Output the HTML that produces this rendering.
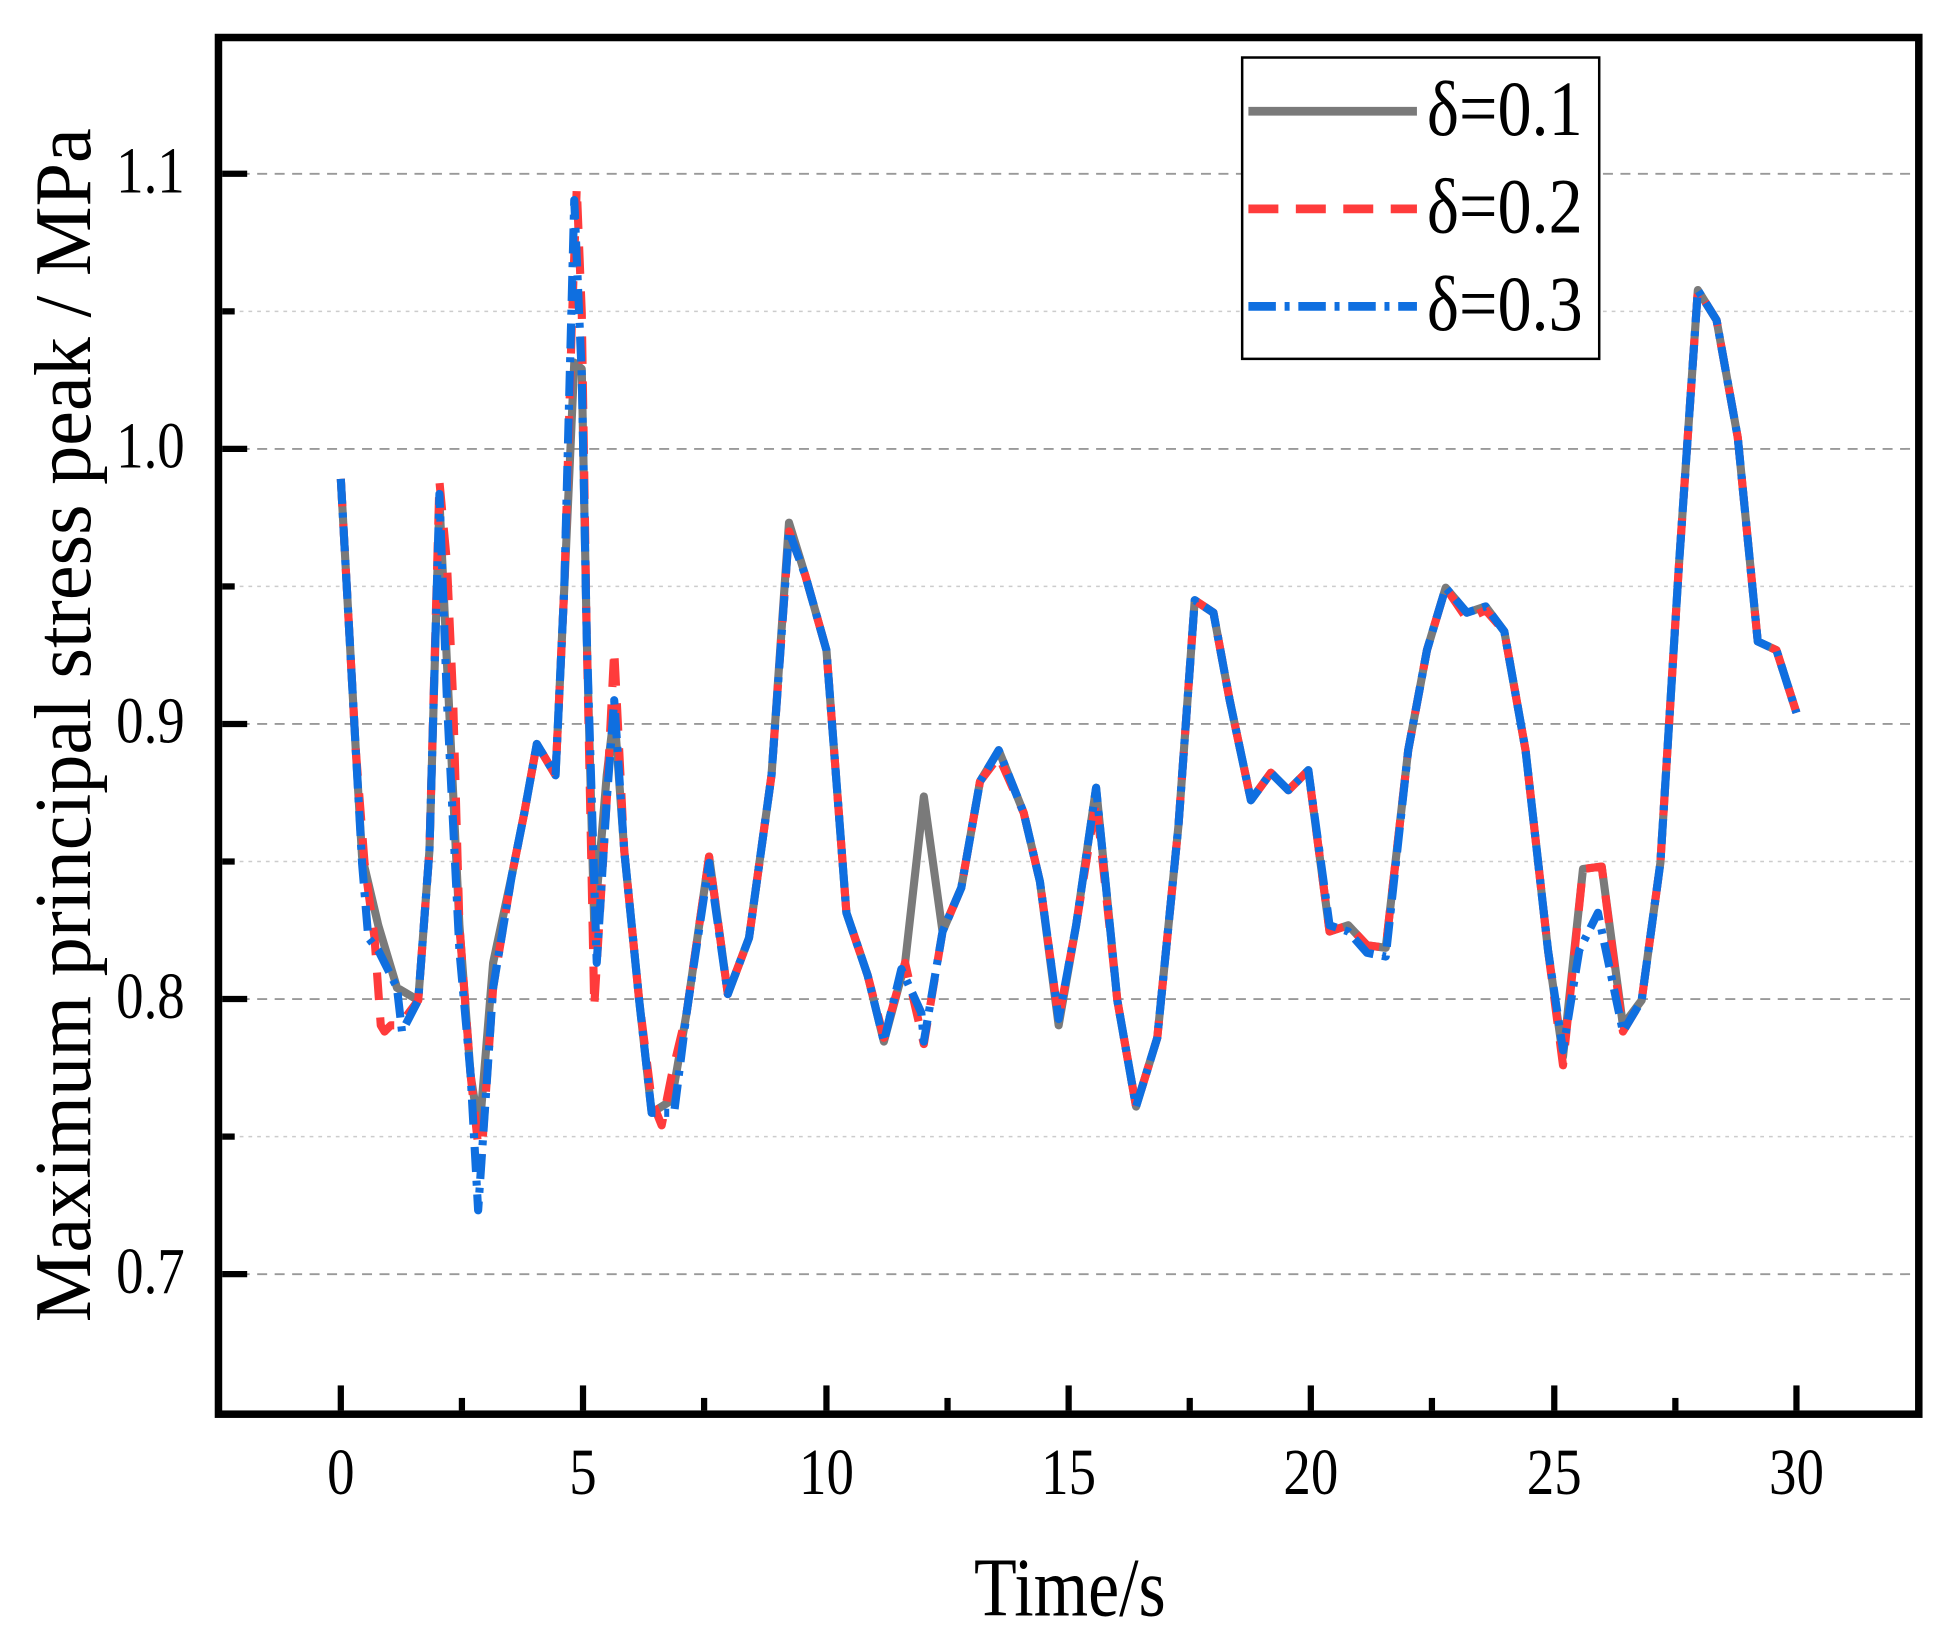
<!DOCTYPE html>
<html><head><meta charset="utf-8"><style>html,body{margin:0;padding:0;background:#fff}svg{display:block}</style></head>
<body>
<svg width="1960" height="1633" viewBox="0 0 1570 1306" preserveAspectRatio="none" xmlns="http://www.w3.org/2000/svg" font-family="Liberation Serif, serif">
<rect width="1570" height="1306" fill="#fff"/>
<g stroke="#999" stroke-width="1.5">
<line x1="178" x2="1534" y1="139" y2="139" stroke-dasharray="8,6"/>
<line x1="178" x2="1534" y1="359" y2="359" stroke-dasharray="8,6"/>
<line x1="178" x2="1534" y1="579" y2="579" stroke-dasharray="8,6"/>
<line x1="178" x2="1534" y1="799" y2="799" stroke-dasharray="8,6"/>
<line x1="178" x2="1534" y1="1019" y2="1019" stroke-dasharray="8,6"/>
</g>
<g stroke="#ccc" stroke-width="1.2" stroke-dasharray="3,4">
<line x1="178" x2="1534" y1="249" y2="249"/>
<line x1="178" x2="1534" y1="469" y2="469"/>
<line x1="178" x2="1534" y1="689" y2="689"/>
<line x1="178" x2="1534" y1="909" y2="909"/>
</g>
<g fill="none" stroke-linejoin="round" stroke-width="6.5">
<polyline stroke="#7a7a7a" points="273,383 285,600 290,685 303,740 318,790 335,800 344,680 352,400 358,530 368,740 377,860 384,905 395,770 410,700 420,650 430,595 445,620 452,470 460,290 466,295 470,510 476,740 486,620 492,570 500,680 512,800 522,890 538,880 550,810 568,685 583,795 600,750 618,620 632,418 645,460 662,520 678,730 695,780 708,833 725,770 740,637 755,745 770,710 785,625 800,600 820,650 833,705 848,820 862,740 878,630 895,800 910,885 927,830 944,660 957,480 972,490 985,560 1002,640 1018,618 1032,632 1048,616 1065,745 1080,740 1095,756 1110,758 1128,600 1143,520 1158,470 1175,490 1190,485 1205,505 1222,600 1240,760 1252,845 1268,695 1283,693 1300,820 1315,800 1330,690 1345,450 1360,232 1375,256 1392,350 1408,513 1423,520 1439,570"/>
<polyline stroke="#ff3b3b" stroke-dasharray="22,14" points="273,383 285,600 292,690 300,750 305,820 308,825 313,820 320,820 335,800 344,680 352,385 358,450 363,560 368,740 377,860 385,935 395,790 410,700 420,650 430,595 445,620 452,470 458,260 462,150 466,250 470,510 476,805 486,640 492,520 500,680 512,800 522,880 530,900 538,860 550,810 568,685 583,795 600,750 618,620 632,425 645,460 662,520 678,730 695,780 708,830 725,770 740,835 755,745 770,710 785,625 800,605 820,650 833,705 848,815 862,740 878,640 895,800 910,885 927,830 944,660 957,480 972,490 985,560 1002,640 1018,618 1032,632 1048,616 1065,745 1080,740 1095,756 1110,758 1128,600 1143,520 1158,470 1175,495 1190,488 1205,505 1222,600 1240,760 1252,852 1268,695 1283,693 1300,825 1315,800 1330,690 1345,450 1360,232 1375,256 1392,350 1408,513 1423,520 1439,570"/>
<polyline stroke="#0f6fe0" stroke-dasharray="20,7,4,7" points="273,383 285,600 290,690 295,750 303,760 318,790 322,825 335,800 344,680 352,395 358,560 368,760 377,860 383,968 395,790 410,700 420,650 430,595 445,620 452,470 460,160 466,300 470,510 478,770 486,640 492,560 500,680 512,800 522,890 540,890 550,810 568,690 583,795 600,750 618,620 632,425 645,460 662,520 678,730 695,780 708,833 722,775 738,810 740,833 755,745 770,710 785,625 800,600 820,650 833,705 848,815 862,740 878,630 895,800 910,885 927,830 944,660 957,480 972,490 985,560 1002,640 1018,618 1032,632 1048,616 1065,740 1080,745 1095,762 1110,765 1128,600 1143,520 1158,470 1175,490 1190,485 1205,505 1222,600 1240,760 1252,840 1265,760 1280,730 1300,825 1315,800 1330,690 1345,450 1360,232 1375,256 1392,350 1408,513 1423,520 1439,570"/>
</g>
<rect x="175" y="30" width="1362" height="1101" fill="none" stroke="#000" stroke-width="6"/>
<g stroke="#000" stroke-width="5">
<line x1="178" x2="198" y1="139" y2="139"/><line x1="178" x2="198" y1="359" y2="359"/><line x1="178" x2="198" y1="579" y2="579"/><line x1="178" x2="198" y1="799" y2="799"/><line x1="178" x2="198" y1="1019" y2="1019"/>
<line x1="178" x2="188" y1="249" y2="249"/><line x1="178" x2="188" y1="469" y2="469"/><line x1="178" x2="188" y1="689" y2="689"/><line x1="178" x2="188" y1="909" y2="909"/>
<line x1="273" x2="273" y1="1128" y2="1108"/><line x1="467" x2="467" y1="1128" y2="1108"/><line x1="662" x2="662" y1="1128" y2="1108"/><line x1="856" x2="856" y1="1128" y2="1108"/><line x1="1050" x2="1050" y1="1128" y2="1108"/><line x1="1245" x2="1245" y1="1128" y2="1108"/><line x1="1439" x2="1439" y1="1128" y2="1108"/>
<line x1="370" x2="370" y1="1128" y2="1118"/><line x1="564" x2="564" y1="1128" y2="1118"/><line x1="759" x2="759" y1="1128" y2="1118"/><line x1="953" x2="953" y1="1128" y2="1118"/><line x1="1147" x2="1147" y1="1128" y2="1118"/><line x1="1342" x2="1342" y1="1128" y2="1118"/>
</g>
<g font-size="44" text-anchor="end">
<text transform="translate(148,154) scale(1,1.2)">1.1</text><text transform="translate(148,374) scale(1,1.2)">1.0</text><text transform="translate(148,594) scale(1,1.2)">0.9</text><text transform="translate(148,814) scale(1,1.2)">0.8</text><text transform="translate(148,1034) scale(1,1.2)">0.7</text>
</g>
<g font-size="44" text-anchor="middle">
<text transform="translate(273,1195) scale(1,1.2)">0</text><text transform="translate(467,1195) scale(1,1.2)">5</text><text transform="translate(662,1195) scale(1,1.2)">10</text><text transform="translate(856,1195) scale(1,1.2)">15</text><text transform="translate(1050,1195) scale(1,1.2)">20</text><text transform="translate(1245,1195) scale(1,1.2)">25</text><text transform="translate(1439,1195) scale(1,1.2)">30</text>
</g>
<text transform="translate(857,1292) scale(1,1.2)" font-size="56" text-anchor="middle">Time/s</text>
<text transform="translate(72,580) rotate(-90) scale(1.16,1.2)" font-size="54" text-anchor="middle">Maximum principal stress peak / MPa</text>
<rect x="995" y="46" width="286" height="241" fill="#fff" stroke="#000" stroke-width="2"/>
<line x1="1000" x2="1135" y1="89" y2="89" stroke="#7a7a7a" stroke-width="7"/>
<line x1="1000" x2="1135" y1="167" y2="167" stroke="#ff3b3b" stroke-width="7" stroke-dasharray="24,14"/>
<line x1="1000" x2="1135" y1="245" y2="245" stroke="#0f6fe0" stroke-width="7" stroke-dasharray="22,7,4,7"/>
<g font-size="52"><text transform="translate(1143,108) scale(1.05,1.2)">δ=0.1</text><text transform="translate(1143,186) scale(1.05,1.2)">δ=0.2</text><text transform="translate(1143,264) scale(1.05,1.2)">δ=0.3</text></g>
</svg>
</body></html>
